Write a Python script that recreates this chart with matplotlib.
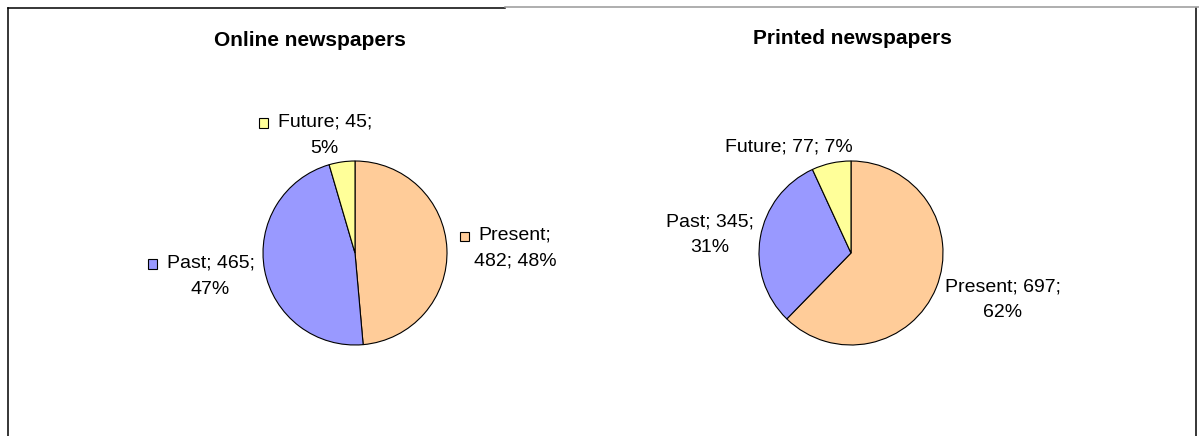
import matplotlib
matplotlib.use("Agg")
import matplotlib.pyplot as plt
from matplotlib.patches import Rectangle
from matplotlib.lines import Line2D

plt.rcParams['font.family'] = ['Liberation Sans', 'DejaVu Sans']

categories = ["Present", "Past", "Future"]
online_vals = [482, 465, 45]
online_pcts = [48, 47, 5]
printed_vals = [697, 345, 77]
printed_pcts = [62, 31, 7]
colors = ["#FFCC99", "#9999FF", "#FFFF99"]

W, H = 1199, 436
fig = plt.figure(figsize=(W / 100, H / 100), dpi=100)

def px_axes(cx, cy, r):
    # axes box so that data -1..1 covers a circle of radius r px centred at (cx, cy)
    return fig.add_axes([(cx - r) / W, 1 - (cy + r) / H, 2 * r / W, 2 * r / H])

def draw_frame():
    lk = dict(color="black", lw=1.1, transform=fig.transFigure)
    fy = lambda y: 1 - y / H
    fx = lambda x: x / W
    fig.add_artist(Line2D([fx(8), fx(8)], [fy(8), 0], **lk))
    fig.add_artist(Line2D([fx(8), fx(505)], [fy(8), fy(8)], **lk))
    fig.add_artist(Line2D([fx(1196), fx(1196)], [fy(8), 0], **lk))
    fig.add_artist(Line2D([fx(505), 1], [fy(7), fy(7)], color="#999999", lw=1.1,
                          transform=fig.transFigure))

draw_frame()

ax1 = px_axes(355, 253, 92)
ax2 = px_axes(851, 253, 92)

for ax, vals in [(ax1, online_vals), (ax2, printed_vals)]:
    ax.pie(vals, colors=colors, startangle=90, counterclock=False, radius=1,
           wedgeprops=dict(edgecolor="black", linewidth=0.8))
    ax.set_xlim(-1, 1)
    ax.set_ylim(-1, 1)
    ax.set_aspect("equal")
    ax.axis("off")

fig.text(310 / W, 1 - 40 / H, "Online newspapers", ha="center", va="center",
         fontsize=15, fontweight="bold")
fig.text(852 / W, 1 - 39 / H, "Printed newspapers", ha="center", va="center",
         fontsize=15, fontweight="bold")

fs = 14
dy = 0.142  # half line distance in data units

# online labels: (line1, line2, x, y) in pie data units, with legend keys
online_pos = [(1.74, 0.05), (-1.57, -0.25), (-0.33, 1.28)]
online_lines = [
    ("Present;", f"{online_vals[0]}; {online_pcts[0]}%"),
    (f"Past; {online_vals[1]};", f"{online_pcts[1]}%"),
    (f"Future; {online_vals[2]};", f"{online_pcts[2]}%"),
]
first_lines = []
for (l1, l2), (x, y) in zip(online_lines, online_pos):
    t1 = ax1.text(x, y + dy, l1, ha="center", va="center", fontsize=fs, clip_on=False)
    ax1.text(x, y - dy, l2, ha="center", va="center", fontsize=fs, clip_on=False)
    first_lines.append(t1)

fig.canvas.draw()
r = fig.canvas.get_renderer()
inv = ax1.transData.inverted()
k = 9.5 / 92  # key size in data units
for t1, c in zip(first_lines, colors):
    bb = t1.get_window_extent(renderer=r)
    x0, y0 = inv.transform((bb.x0, (bb.y0 + bb.y1) / 2))
    ax1.add_patch(Rectangle((x0 - 19 / 92, y0 - k / 2 - 0.01), k, k, facecolor=c,
                            edgecolor="black", linewidth=0.8, clip_on=False))

# printed labels
printed_pos = [(1.65, -0.51), (-1.53, 0.20)]
printed_lines = [
    (f"Present; {printed_vals[0]};", f"{printed_pcts[0]}%"),
    (f"Past; {printed_vals[1]};", f"{printed_pcts[1]}%"),
]
for (l1, l2), (x, y) in zip(printed_lines, printed_pos):
    ax2.text(x, y + dy, l1, ha="center", va="center", fontsize=fs, clip_on=False)
    ax2.text(x, y - dy, l2, ha="center", va="center", fontsize=fs, clip_on=False)
ax2.text(-0.67, 1.15, f"Future; {printed_vals[2]}; {printed_pcts[2]}%",
         ha="center", va="center", fontsize=fs, clip_on=False)

fig.savefig("out.png", dpi=100)
